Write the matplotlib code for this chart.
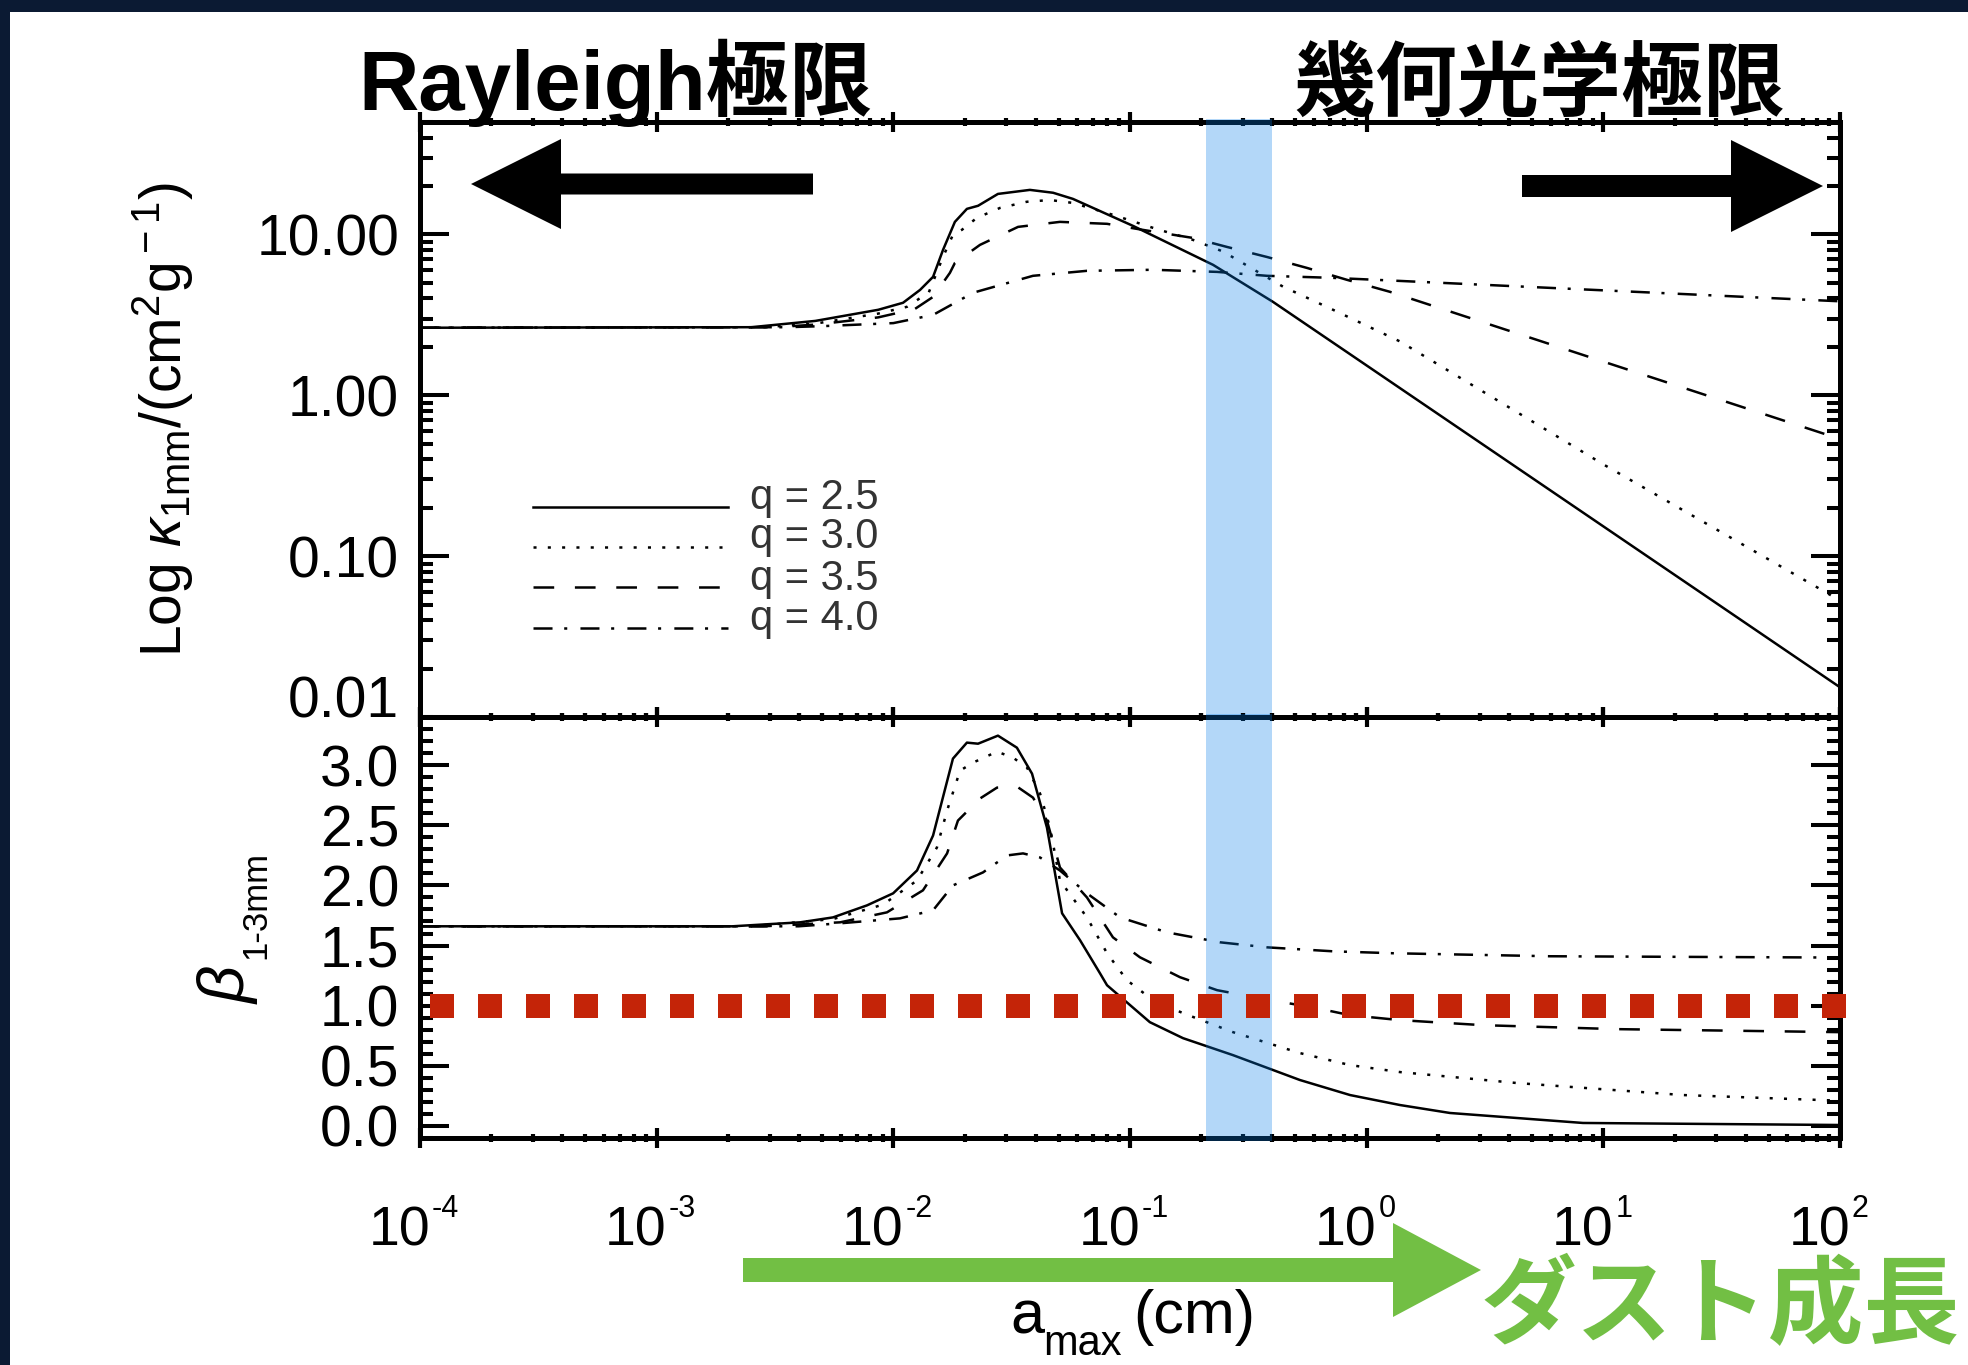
import matplotlib
matplotlib.use('Agg')
import numpy as np
import matplotlib.pyplot as plt
from matplotlib.patches import Polygon, Rectangle
from matplotlib.lines import Line2D
from matplotlib.ticker import LogLocator, MultipleLocator, NullFormatter

W, H = 1968, 1365

plt.rcParams['font.family'] = ['Liberation Sans', 'Noto Sans CJK JP', 'DejaVu Sans']
plt.rcParams['mathtext.fontset'] = 'custom'
plt.rcParams['mathtext.rm'] = 'Liberation Sans'
plt.rcParams['mathtext.it'] = 'Liberation Sans:italic'
plt.rcParams['lines.scale_dashes'] = False

NARROW = ['Liberation Sans Narrow', 'Liberation Sans']
JP = ['Liberation Sans', 'Noto Sans CJK JP']

# --- opacity at 1 mm vs maximum grain size (cm, cm^2/g) ---
a_k25 = [1e-4, 2.51e-3, 4.68e-3, 8.63e-3, 1.099e-2, 1.297e-2, 1.472e-2, 1.622e-2, 1.820e-2,
         2.046e-2, 2.280e-2, 2.767e-2, 3.776e-2, 4.732e-2, 5.741e-2, 0.1030, 0.2244, 0.4018,
         0.8511, 28.25, 100.0]
k25 = [2.63, 2.65, 2.90, 3.40, 3.76, 4.52, 5.45, 8.02, 11.97, 14.42, 15.07, 17.86, 18.92,
       18.16, 16.63, 11.30, 6.47, 3.81, 1.80, 0.0542, 0.0153]

a_k30 = [1e-4, 2.82e-3, 4.68e-3, 8.63e-3, 1.143e-2, 1.413e-2, 1.622e-2, 1.786e-2, 1.950e-2,
         2.254e-2, 2.825e-2, 3.664e-2, 4.592e-2, 5.741e-2, 8.472e-2, 0.1250, 0.1845, 0.2472,
         0.4426, 0.7211, 1.384, 10.0, 100.0]
k30 = [2.63, 2.65, 2.79, 3.22, 3.55, 4.37, 7.26, 9.95, 10.69, 12.68, 14.62, 15.96, 16.37,
       15.70, 13.24, 10.99, 9.25, 7.83, 4.74, 3.40, 2.16, 0.372, 0.053]

a_k35 = [1e-4, 3.16e-3, 4.68e-3, 8.63e-3, 1.233e-2, 1.472e-2, 1.734e-2, 1.820e-2, 2.323e-2,
         3.365e-2, 5.058e-2, 7.998e-2, 0.1135, 0.1845, 0.2570, 0.3793, 0.5598, 0.8260,
         1.253, 100.0]
k35 = [2.63, 2.65, 2.75, 3.05, 3.44, 4.09, 5.77, 6.65, 8.61, 11.14, 11.97, 11.64, 10.67,
       9.51, 8.36, 7.24, 6.19, 5.22, 4.40, 0.535]

a_k40 = [1e-4, 3.55e-3, 5.01e-3, 1e-2, 1.472e-2, 2.173e-2, 3.890e-2, 6.577e-2, 0.1250,
         0.2333, 0.3793, 0.7211, 1.384, 100.0]
k40 = [2.63, 2.65, 2.69, 2.81, 3.16, 4.34, 5.53, 5.94, 6.03, 5.85, 5.53, 5.37, 5.14, 3.84]

# --- spectral index between 1 and 3 mm ---
a_b25 = [1e-4, 2.09e-3, 4.04e-3, 5.56e-3, 7.74e-3, 9.98e-3, 1.259e-2, 1.472e-2, 1.786e-2,
         2.046e-2, 2.280e-2, 2.767e-2, 3.327e-2, 3.855e-2, 4.457e-2, 5.164e-2, 6.152e-2,
         7.464e-2, 7.998e-2, 0.1213, 0.1675, 0.2723, 0.5224, 0.8511, 1.384, 2.249, 8.204, 100.0]
b25 = [1.66, 1.66, 1.693, 1.734, 1.834, 1.934, 2.124, 2.415, 3.054, 3.187, 3.178, 3.245,
       3.145, 2.929, 2.481, 1.768, 1.544, 1.270, 1.170, 0.863, 0.730, 0.589, 0.382, 0.257,
       0.174, 0.108, 0.025, 0.008]

a_b30 = [1e-4, 2.51e-3, 5.56e-3, 9.04e-3, 1.259e-2, 1.528e-2, 1.687e-2, 1.914e-2, 2.173e-2,
         2.742e-2, 3.206e-2, 3.673e-2, 4.169e-2, 4.592e-2, 5.058e-2, 6.577e-2, 7.998e-2,
         9.705e-2, 0.1250, 0.1675, 0.2723, 0.5224, 0.8511, 1.384, 4.315, 21.73, 100.0]
b30 = [1.66, 1.66, 1.72, 1.84, 2.041, 2.315, 2.622, 2.954, 3.021, 3.112, 3.062, 2.979,
       2.763, 2.481, 2.041, 1.734, 1.436, 1.212, 1.046, 0.938, 0.780, 0.606, 0.506, 0.448,
       0.357, 0.257, 0.21]

a_b35 = [1e-4, 2.82e-3, 5.96e-3, 9.40e-3, 1.334e-2, 1.687e-2, 1.875e-2, 2.323e-2, 2.742e-2,
         3.327e-2, 3.890e-2, 4.457e-2, 5.058e-2, 6.577e-2, 8.472e-2, 0.1102, 0.1626, 0.2333,
         0.3540, 0.6166, 0.8511, 1.384, 3.097, 11.43, 100.0]
b35 = [1.66, 1.66, 1.693, 1.776, 1.959, 2.266, 2.539, 2.722, 2.813, 2.822, 2.730, 2.539,
       2.149, 1.900, 1.568, 1.402, 1.237, 1.129, 1.062, 0.979, 0.921, 0.880, 0.838, 0.805, 0.78]

a_b40 = [1e-4, 3.98e-3, 5.96e-3, 1.067e-2, 1.472e-2, 1.786e-2, 2.393e-2, 3.020e-2, 3.532e-2,
         4.169e-2, 5.058e-2, 6.577e-2, 9.078e-2, 0.1432, 0.2399, 0.3793, 0.7211, 1.291,
         5.957, 100.0]
b40 = [1.66, 1.66, 1.685, 1.726, 1.793, 2.0, 2.108, 2.249, 2.266, 2.232, 2.124, 1.934,
       1.734, 1.610, 1.527, 1.485, 1.452, 1.436, 1.411, 1.40]

q_labels = ['q = 2.5', 'q = 3.0', 'q = 3.5', 'q = 4.0']
line_styles = ['-', (0, (2.2, 8.1)), (0, (14.9, 14.9)), (0, (13.7, 8.4, 2.2, 9.5))]

kappa_ticks = [0.01, 0.1, 1.0, 10.0]
kappa_labels = ['0.01', '0.10', '1.00', '10.00']
decades = [1e-4, 1e-3, 1e-2, 1e-1, 1e0, 1e1, 1e2]
decade_exp = ['-4', '-3', '-2', '-1', '0', '1', '2']

beta_ref = 1.0                 # beta = 1 reference level
band_lo, band_hi = 0.21, 0.40  # shaded a_max range (cm)


def fx(px):
    return px / W


def fy(py):
    return 1 - py / H


fig = plt.figure(figsize=(W / 100, H / 100), dpi=100)
fig.patch.set_facecolor('#0b1a33')
fig.add_artist(Rectangle((fx(10), 0), 1 - fx(10), fy(12), transform=fig.transFigure,
                         facecolor='white', edgecolor='none', zorder=-10))

ax1 = fig.add_axes([fx(420), fy(717), fx(1840) - fx(420), fy(122) - fy(717)])
ax2 = fig.add_axes([fx(420), fy(1138), fx(1840) - fx(420), fy(717) - fy(1138)])

kappa = [(a_k25, k25), (a_k30, k30), (a_k35, k35), (a_k40, k40)]
beta = [(a_b25, b25), (a_b30, b30), (a_b35, b35), (a_b40, b40)]

for (xa, ya), ls in zip(kappa, line_styles):
    ax1.plot(xa, ya, color='black', lw=1.8, linestyle=ls, zorder=2)
for (xa, ya), ls in zip(beta, line_styles):
    ax2.plot(xa, ya, color='black', lw=1.8, linestyle=ls, zorder=2)

for ax in (ax1, ax2):
    ax.set_xscale('log')
    ax.set_xlim(1e-4, 1e2)
    ax.set_xticks(decades)
    ax.xaxis.set_minor_locator(LogLocator(base=10, subs=np.arange(2, 10), numticks=30))
    ax.xaxis.set_minor_formatter(NullFormatter())
    ax.tick_params(axis='x', which='major', direction='inout', length=14, width=3,
                   top=True, bottom=True, labelbottom=False)
    ax.tick_params(axis='x', which='minor', direction='inout', length=6, width=3,
                   top=True, bottom=True)
    ax.tick_params(axis='y', which='major', direction='in', length=21, width=2.9,
                   left=True, right=True, pad=15, labelsize=41)
    ax.tick_params(axis='y', which='minor', direction='in', length=9.4, width=2.9,
                   left=True, right=True)
    for sp in ax.spines.values():
        sp.set_linewidth(3.6)

ax1.set_yscale('log')
ax1.set_ylim(0.01, 50)
ax1.set_yticks(kappa_ticks, kappa_labels)
ax1.yaxis.set_minor_locator(LogLocator(base=10, subs=np.arange(2, 10), numticks=30))
ax1.yaxis.set_minor_formatter(NullFormatter())
ax1.yaxis.get_major_ticks()[0].label1.set_verticalalignment('baseline')

ax2.set_ylim(-0.1, 3.4)
ax2.yaxis.set_major_locator(MultipleLocator(0.5))
ax2.yaxis.set_minor_locator(MultipleLocator(0.1))
ax2.yaxis.set_major_formatter(lambda v, pos: f'{v:.1f}')

# shaded band across both panels, drawn over the curves
band_kw = dict(facecolor=(0.02, 0.49, 0.91), alpha=0.3, linewidth=0, clip_on=False, zorder=3)
ax1.axvspan(band_lo, band_hi, ymin=0, ymax=1 + 3 / 595, **band_kw)
ax2.axvspan(band_lo, band_hi, ymin=-3 / 421, ymax=1 + 3 / 421, **band_kw)

# beta = 1 reference, square dashes
ax2.axhline(beta_ref, xmin=0, xmax=1.005, color='#c42408', lw=17.28,
            linestyle=(27.36, (17.28, 17.28)), dash_capstyle='butt', clip_on=False, zorder=4)

# legend keys
key_y = [0.353, 0.2857, 0.2185, 0.1496]
txt_y = [0.368, 0.3025, 0.232, 0.1647]
for lab, ls, ky, ty in zip(q_labels, line_styles, key_y, txt_y):
    ax1.add_line(Line2D([0.0796, 0.2169], [ky, ky], transform=ax1.transAxes,
                        color='black', lw=1.8, linestyle=ls))
    ax1.text(0.2324, ty, lab, transform=ax1.transAxes, fontsize=30, color='#333333',
             ha='left', va='center')

# x tick labels 10^n
for d, e in zip(decades, decade_exp):
    ax2.annotate('10', xy=(d, 0), xycoords=('data', 'axes fraction'), xytext=(10, -107),
                 textcoords='offset pixels', ha='right', va='baseline', fontsize=40,
                 family=NARROW)
    ax2.annotate(e, xy=(d, 0), xycoords=('data', 'axes fraction'), xytext=(12, -79),
                 textcoords='offset pixels', ha='left', va='baseline', fontsize=22,
                 family=NARROW)

# axis titles
fig.text(fx(1010), fy(1333), 'a', fontsize=44, family=NARROW, ha='left', va='baseline')
fig.text(fx(1043), fy(1355), 'max', fontsize=30, family=NARROW, ha='left', va='baseline')
fig.text(fx(1133), fy(1333), '(cm)', fontsize=44, family=NARROW, ha='left', va='baseline')

fig.text(fx(163), fy(420), r'Log $\kappa_{\rm 1mm}$/(cm$^{\rm 2}$g$^{\rm -1}$)',
         fontsize=41, rotation=90, ha='center', va='center')
fig.text(fx(229), fy(985), 'β', fontsize=47, style='italic', rotation=90,
         ha='center', va='center')
fig.text(fx(256), fy(905), '1-3mm', fontsize=25, rotation=90, ha='center', va='center')

# headings
fig.text(fx(358), fy(110), 'Rayleigh極限', fontsize=60, fontweight='bold', family=JP,
         ha='left', va='baseline')
fig.text(fx(1293), fy(110), '幾何光学極限', fontsize=59, fontweight='bold', family=JP,
         ha='left', va='baseline')


def arrow(x0, x1, xh, yc, shaft, head, color):
    # horizontal block arrow from x0 to tip x1, head base at xh (pixels)
    pts = [(x0, yc - shaft), (xh, yc - shaft), (xh, yc - head), (x1, yc),
           (xh, yc + head), (xh, yc + shaft), (x0, yc + shaft)]
    fig.add_artist(Polygon([(fx(px), fy(py)) for px, py in pts], closed=True,
                           transform=fig.transFigure, facecolor=color, edgecolor='none',
                           zorder=5))


arrow(813, 471, 561, 184, 10.5, 45, 'black')
arrow(1522, 1823, 1731, 186, 11, 46, 'black')
arrow(743, 1481, 1393, 1270, 12, 47, '#72bf44')

fig.text(fx(1481), fy(1336), 'ダスト成長', fontsize=69, fontweight='bold', family=JP,
         color='#72bf44', ha='left', va='baseline')

fig.savefig('out.png', dpi=100, facecolor=fig.get_facecolor())
